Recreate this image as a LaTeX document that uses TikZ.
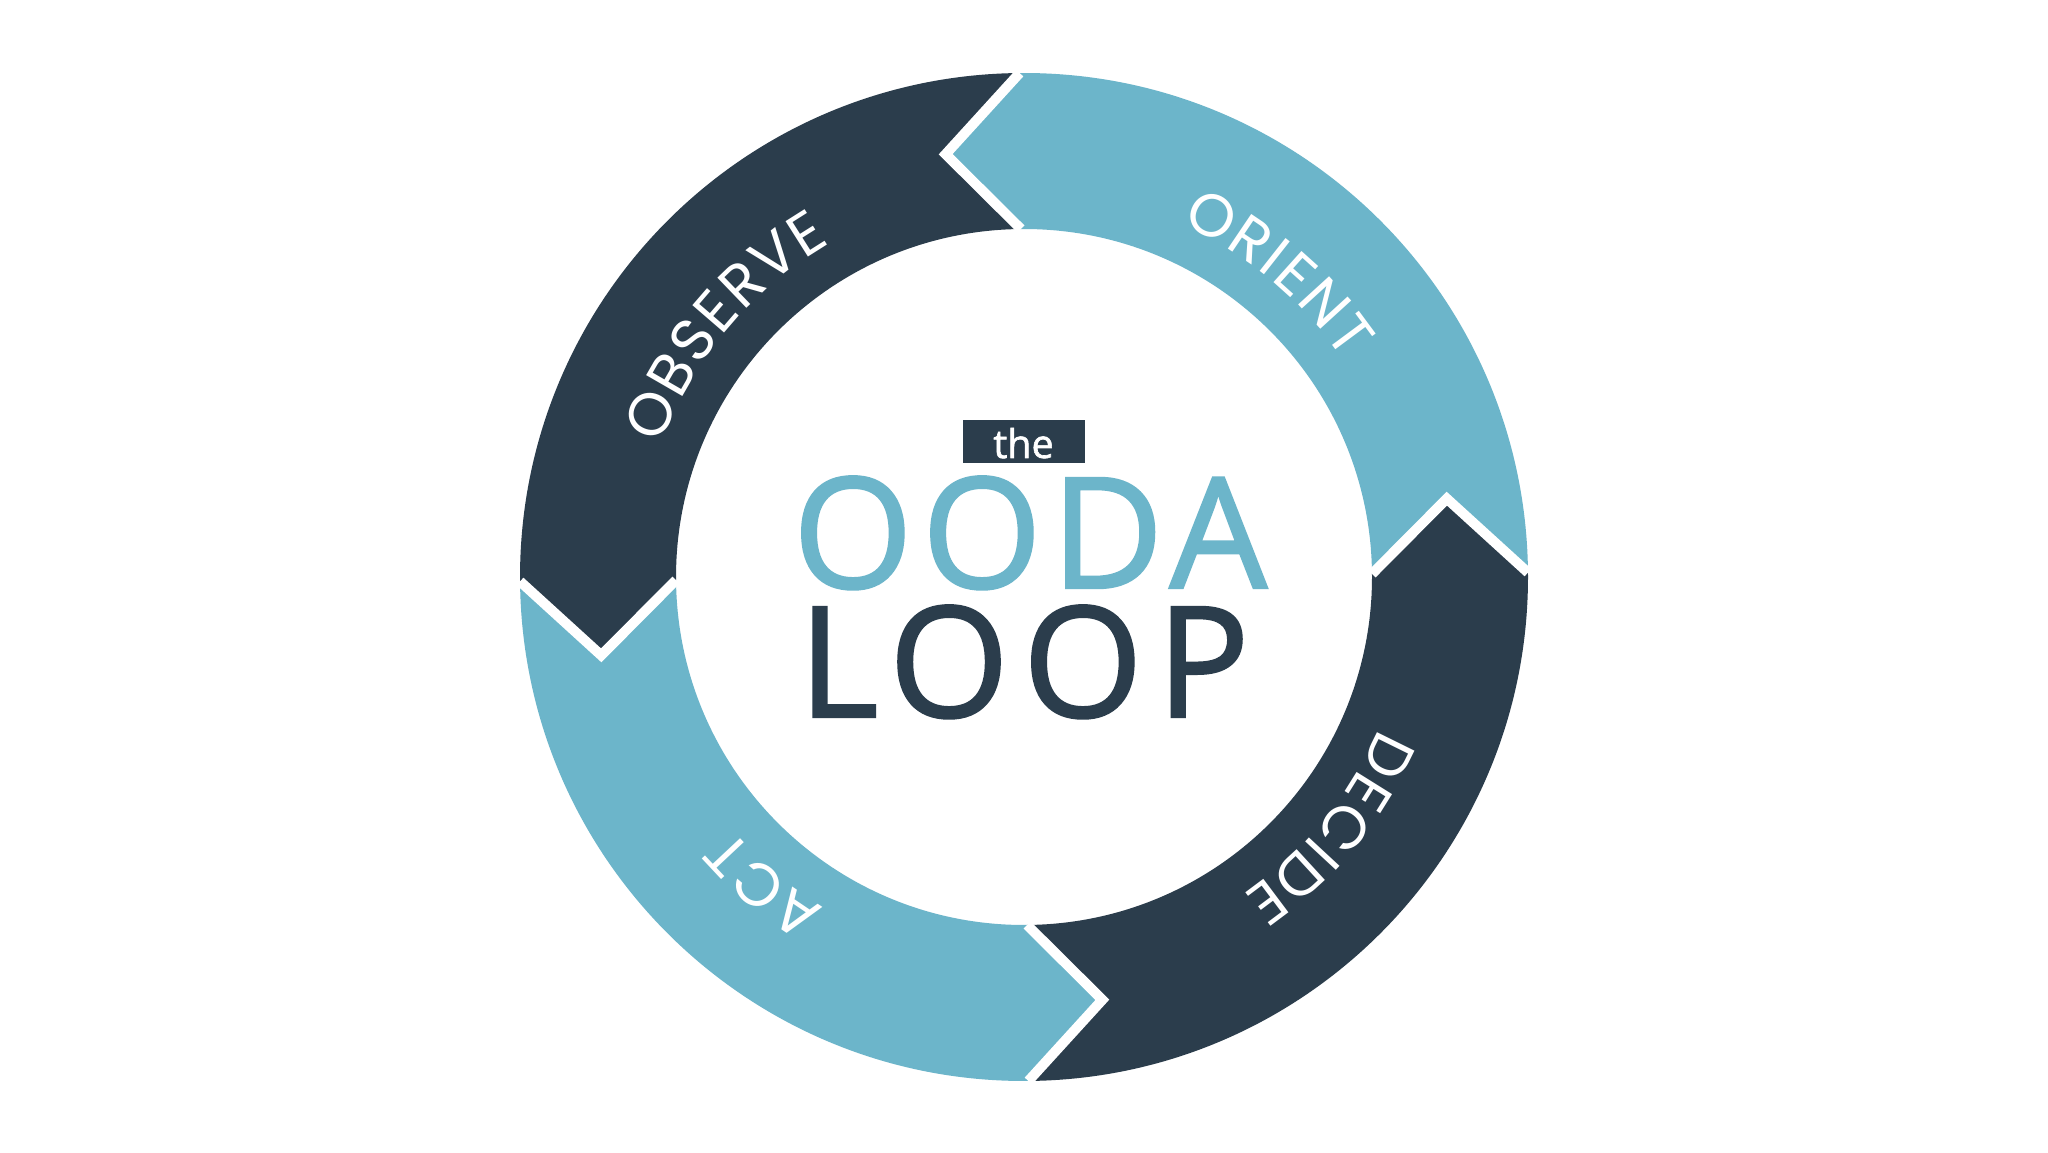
\documentclass[tikz,border=0pt]{standalone}
\usepackage{fontspec}
\setmainfont{Open Sans}
\newfontfamily\lblfont{Poppins}
\newfontfamily\oodafont{Open Sans}[FakeBold=1.6]
\definecolor{oodadark}{HTML}{2B3D4C}
\definecolor{oodalight}{HTML}{6CB5CA}
\newcommand\lblsize{\lblfont\fontsize{30pt}{31pt}\selectfont}
\newlength\oodawd
\newcommand\oodatrack{2}
\newcommand\oodaseg[2]{%
  \fill[#2] ({#1}:252pt) arc[start angle={#1}, end angle={#1+90}, radius=252pt]
    -- ({#1+100}:215pt) -- ({#1+90}:174pt)
    arc[start angle={#1+90}, end angle={#1}, radius=174pt]
    -- ({#1+10}:215pt) -- cycle;}
\newcommand\oodagap[1]{%
  \draw[gapline] ({#1}:252pt) -- ({#1+10}:215pt) -- ({#1}:174pt);}
% measure letters and store their angles: #1 prefix, #2 centre angle, #3 letters
\newcommand\oodaprepare[3]{%
  \gdef\oodatot{0}\gdef\oodan{0}%
  \foreach \ch in {#3}{%
    \settowidth\oodawd{\lblsize\ch}%
    \pgfmathsetmacro\oodat{\oodatot+\oodawd}\global\let\oodatot\oodat
    \pgfmathsetmacro\oodat{\oodan+1}\global\let\oodan\oodat}%
  \pgfmathsetmacro\oodalen{\oodatot+(\oodan-1)*\oodatrack}%
  \global\let\oodalenG\oodalen
  \gdef\oodacum{0}%
  \foreach \ch [count=\i] in {#3}{%
    \settowidth\oodawd{\lblsize\ch}%
    \pgfmathsetmacro\oodas{-\oodalenG/2+\oodacum+(\i-1)*\oodatrack+\oodawd/2}%
    \pgfmathsetmacro\oodaang{#2-\oodas/203.5*180/pi}%
    \expandafter\xdef\csname oodaang#1\i\endcsname{\oodaang}%
    \pgfmathsetmacro\oodat{\oodacum+\oodawd}\global\let\oodacum\oodat}%
}
\newcommand\oodaplace[2]{%
  \foreach \ch [count=\i] in {#2}{%
    \edef\oodaA{\csname oodaang#1\i\endcsname}%
    \node[lbl, rotate=\oodaA-90] (#1\i) at (\oodaA:203.5pt) {\ch};}}
\oodaprepare{obs}{140}{O,B,S,E,R,V,E}
\oodaprepare{ori}{50}{O,R,I,E,N,T}
\oodaprepare{dec}{-39.3}{D,E,C,I,D,E}
\oodaprepare{act}{229.8}{A,C,T}
\tikzset{gapline/.style={white, line width=5pt, line cap=square, line join=miter},
  lbl/.style={text=white, font=\lblsize, inner sep=0pt, anchor=center}}
\begin{document}
\begin{tikzpicture}[x=0.5pt,y=0.5pt]
\useasboundingbox[fill=white] (0,0) rectangle (2048,1152);
\begin{scope}[shift={(1024,575)}]
  \oodaseg{0.5}{oodalight}
  \oodaseg{90.5}{oodadark}
  \oodaseg{180.5}{oodalight}
  \oodaseg{270.5}{oodadark}
  \oodagap{0.5}
  \oodagap{90.5}
  \oodagap{180.5}
  \oodagap{270.5}
  \oodaplace{obs}{O,B,S,E,R,V,E}
  \oodaplace{ori}{O,R,I,E,N,T}
  \oodaplace{dec}{D,E,C,I,D,E}
  \oodaplace{act}{A,C,T}
\end{scope}
\node[fill=oodadark, minimum width=61pt, minimum height=21.5pt, inner sep=0pt] (thebox) at (1024,710.5) {};
\node[anchor=base, text=white, inner sep=0pt, font=\oodafont\fontsize{19.75pt}{20pt}\selectfont] (thetext) at (1023.5,694) {the};
\node[anchor=base, text=oodalight, inner sep=0pt, font=\oodafont\fontsize{77pt}{77pt}\selectfont\addfontfeatures{LetterSpace=6}] (ooda) at (1030,564) {OODA};
\node[anchor=base, text=oodadark, inner sep=0pt, font=\oodafont\fontsize{77pt}{77pt}\selectfont\addfontfeatures{LetterSpace=9}] (loop) at (1024,435) {LOOP};
\end{tikzpicture}
\end{document}
